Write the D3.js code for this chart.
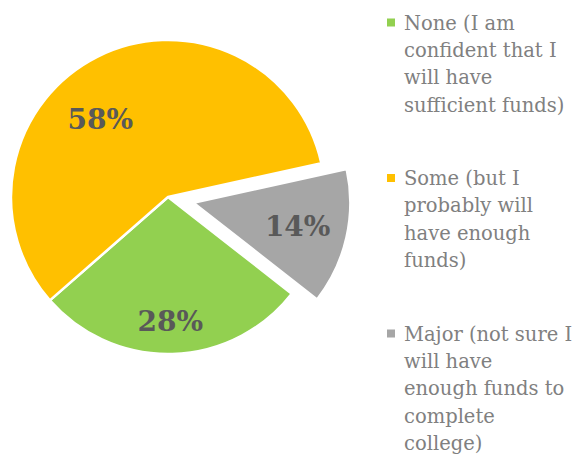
<!DOCTYPE html>
<html>
<head>
<meta charset="utf-8">
<script src="https://cdn.jsdelivr.net/npm/d3@7"></script>
<style>
  body { margin: 0; background: #fff; }
</style>
</head>
<body>
<div class="pie"></div>
<script>
// chart values
const categories = ["None", "Some", "Major"];
const shares = [28, 58, 14];
const legendLines = [
  ["None (I am", "confident that I", "will have", "sufficient funds)"],
  ["Some (but I", "probably will", "have enough", "funds)"],
  ["Major (not sure I", "will have", "enough funds to", "complete", "college)"],
];
const sliceColors = ["#92D050", "#FFC000", "#A6A6A6"];

const width = 579;
const height = 455;
const cx = 168, cy = 197, radius = 157;
const firstSliceAngle = 128 * Math.PI / 180;
const explodeSlice = "Major", explodeDist = 26;
// label placement (Excel best fit), radius fraction + angle nudge in degrees
const labelPos = { None: [0.79, 0.5], Some: [0.66, -14], Major: [0.68, -0.5] };

const svg = d3.select(".pie")
  .append("svg")
  .attr("width", width)
  .attr("height", height);

const data = categories.map((c, i) => ({ cat: c, value: shares[i], color: sliceColors[i] }));

const pie = d3.pie()
  .sort(null)
  .value((d) => d.value)
  .startAngle(firstSliceAngle)
  .endAngle(firstSliceAngle + 2 * Math.PI);

const arc = d3.arc().innerRadius(0).outerRadius(radius);
const arcs = pie(data);

function offsetOf(d) {
  if (d.data.cat !== explodeSlice) return [0, 0];
  const a = (d.startAngle + d.endAngle) / 2;
  return [Math.sin(a) * explodeDist, -Math.cos(a) * explodeDist];
}

const g = svg.append("g").attr("transform", "translate(" + cx + "," + cy + ")");

const slices = g.selectAll("g.slice")
  .data(arcs)
  .enter()
  .append("g")
  .attr("class", "slice")
  .attr("transform", (d) => "translate(" + offsetOf(d).join(",") + ")");

slices.append("path")
  .attr("d", arc)
  .attr("fill", (d) => d.data.color)
  .attr("stroke", "#fff")
  .attr("stroke-width", 2.5)
  .attr("stroke-linejoin", "round");

slices.append("text")
  .attr("transform", (d) => {
    const p = labelPos[d.data.cat];
    const a = (d.startAngle + d.endAngle) / 2 + p[1] * Math.PI / 180;
    const r = radius * p[0];
    return "translate(" + (Math.sin(a) * r) + "," + (-Math.cos(a) * r) + ")";
  })
  .attr("text-anchor", "middle")
  .attr("dy", "0.36em")
  .style("font-family", "'DejaVu Serif', serif")
  .style("font-weight", "bold")
  .style("font-size", "28px")
  .style("fill", "#595959")
  .text((d) => d.data.value + "%");

// legend
const legendX = 387, legendTop = 29.5, entryGap = 155.5, lineH = 27.4;

const legend = svg.append("g");
const items = legend.selectAll("g.item")
  .data(data)
  .enter()
  .append("g")
  .attr("class", "item")
  .attr("transform", (d, i) => "translate(" + legendX + "," + (legendTop + i * entryGap) + ")");

items.append("rect")
  .attr("x", 0)
  .attr("y", -11)
  .attr("width", 8)
  .attr("height", 8)
  .attr("fill", (d) => d.color);

items.append("text")
  .style("font-family", "'DejaVu Serif', serif")
  .style("font-size", "19.5px")
  .style("fill", "#808080")
  .selectAll("tspan")
  .data((d, i) => legendLines[i])
  .enter()
  .append("tspan")
  .attr("x", 17)
  .attr("y", (d, j) => j * lineH)
  .text((d) => d);
</script>
</body>
</html>
